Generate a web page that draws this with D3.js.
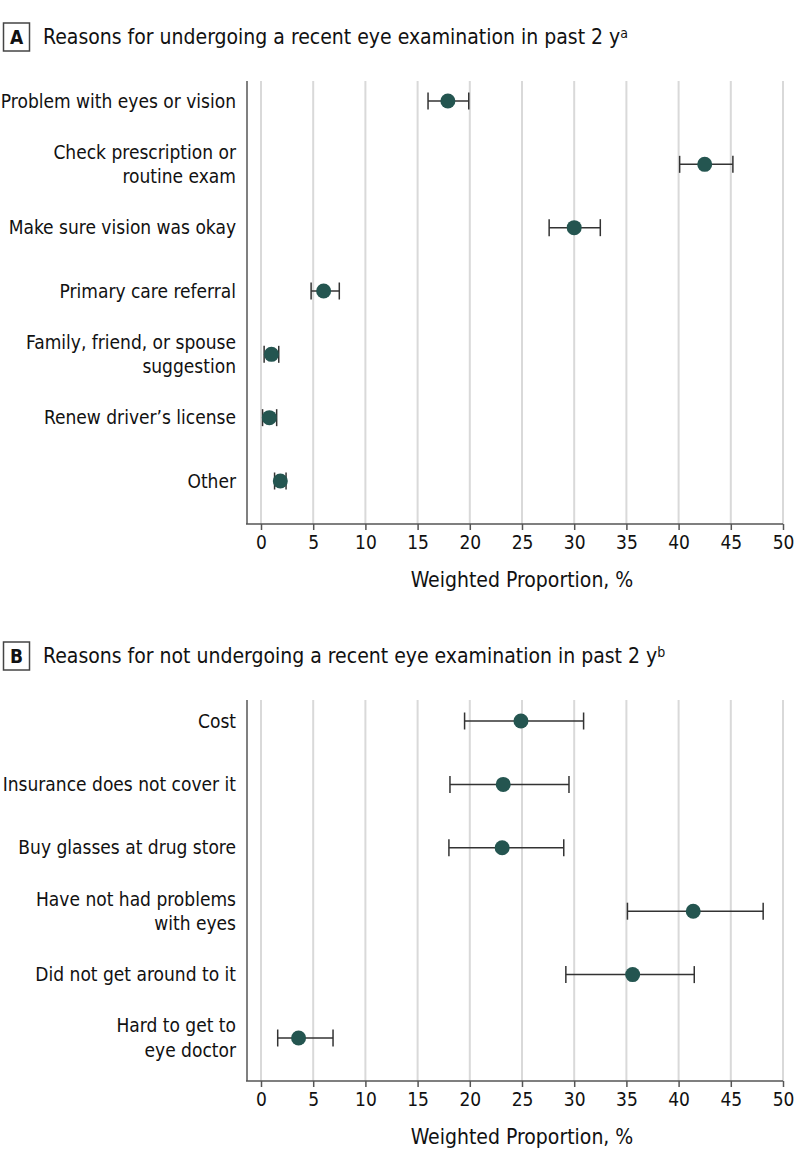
<!DOCTYPE html>
<html>
<head>
<meta charset="utf-8">
<script src="https://cdn.jsdelivr.net/npm/d3@7"></script>
<style>
  html, body { margin: 0; padding: 0; background: #fff; }
  svg { display: block; }
</style>
</head>
<body>
<svg id="chart" width="798" height="1166"></svg>
<script>
// ---------- data ----------
const reasonsA = [
  ["Problem with eyes or vision"],
  ["Check prescription or", "routine exam"],
  ["Make sure vision was okay"],
  ["Primary care referral"],
  ["Family, friend, or spouse", "suggestion"],
  ["Renew driver\u2019s license"],
  ["Other"]
];
const estA  = [17.9, 42.5, 30.0, 6.0, 1.0, 0.8, 1.85];
const lowA  = [16.0, 40.1, 27.6, 4.8, 0.3, 0.15, 1.3];
const highA = [19.9, 45.2, 32.5, 7.5, 1.7, 1.5, 2.4];

const reasonsB = [
  ["Cost"],
  ["Insurance does not cover it"],
  ["Buy glasses at drug store"],
  ["Have not had problems", "with eyes"],
  ["Did not get around to it"],
  ["Hard to get to", "eye doctor"]
];
const estB  = [24.9, 23.2, 23.1, 41.4, 35.6, 3.6];
const lowB  = [19.5, 18.1, 18.0, 35.1, 29.2, 1.6];
const highB = [30.9, 29.5, 29.0, 48.1, 41.5, 6.9];

const tickValues = [0, 5, 10, 15, 20, 25, 30, 35, 40, 45, 50];
const xTitle = "Weighted Proportion, %";
const titleA = "Reasons for undergoing a recent eye examination in past 2 y";
const supA = "a";
const titleB = "Reasons for not undergoing a recent eye examination in past 2 y";
const supB = "b";

// ---------- style ----------
const FONT = '"Liberation Sans Narrow", "DejaVu Sans Condensed", "Arial Narrow", "Liberation Sans", sans-serif';
const DOT = "#245550";
const svg = d3.select("#chart").style("font-family", FONT);

const x = d3.scaleLinear().domain([0, 50]).range([261, 783]);

function panel(opts) {
  const g = svg.append("g");
  const {letter, title, sup, labels, est, low, high, top, bottom, firstRow, lastRow, titleY} = opts;
  const y = d3.scalePoint().domain(d3.range(labels.length)).range([firstRow, lastRow]);

  // title box
  g.append("rect").attr("x", 3.5).attr("y", titleY - 14).attr("width", 26).attr("height", 28)
    .attr("fill", "#fff").attr("stroke", "#444").attr("stroke-width", 1.5);
  g.append("text").attr("x", 16.5).attr("y", titleY).attr("dy", "0.35em")
    .attr("text-anchor", "middle").attr("font-weight", "bold").attr("font-size", 19)
    .attr("fill", "#111").text(letter);
  const t = g.append("text").attr("x", 43).attr("y", titleY).attr("dy", "0.35em")
    .attr("font-size", 21).attr("fill", "#111");
  t.append("tspan").text(title);
  t.append("tspan").attr("dy", "-0.45em").attr("font-size", 14).text(sup);

  // gridlines
  g.append("g").selectAll("line").data(tickValues).join("line")
    .attr("x1", d => x(d)).attr("x2", d => x(d))
    .attr("y1", top).attr("y2", bottom)
    .attr("stroke", "#d9d9d9").attr("stroke-width", 2);

  // left axis line
  g.append("line").attr("x1", 247).attr("x2", 247).attr("y1", top).attr("y2", bottom)
    .attr("stroke", "#808080").attr("stroke-width", 2);

  // bottom axis
  const ax = g.append("g").attr("transform", `translate(0,${bottom})`)
    .call(d3.axisBottom(x).tickValues(tickValues).tickSize(6).tickPadding(6).tickSizeOuter(0));
  ax.select(".domain").attr("d", `M246,0H${x(50)}`).attr("stroke", "#555").attr("stroke-width", 1.5);
  ax.selectAll(".tick line").attr("stroke", "#555").attr("stroke-width", 1.5);
  ax.selectAll(".tick text").attr("font-size", 19).attr("fill", "#111")
    .attr("font-family", FONT);

  g.append("text").attr("x", (x(0) + x(50)) / 2).attr("y", bottom + 56).attr("dy", "0.35em")
    .attr("text-anchor", "middle").attr("font-size", 21).attr("fill", "#111").text(xTitle);

  // y labels
  g.append("g").selectAll("text").data(labels).join("text")
    .attr("x", 236).attr("y", (d, i) => y(i)).attr("text-anchor", "end")
    .attr("font-size", 19).attr("fill", "#111")
    .each(function (d) {
      const el = d3.select(this);
      const n = d.length;
      d.forEach((line, k) => {
        el.append("tspan").attr("x", 236)
          .attr("dy", k === 0 ? `${0.35 - (n - 1) * 0.65}em` : "1.3em")
          .text(line);
      });
    });

  // error bars
  const eb = g.append("g").attr("stroke", "#333").attr("stroke-width", 1.5);
  eb.selectAll("line.ci").data(est).join("line").attr("class", "ci")
    .attr("x1", (d, i) => x(low[i])).attr("x2", (d, i) => x(high[i]))
    .attr("y1", (d, i) => y(i)).attr("y2", (d, i) => y(i));
  eb.selectAll("line.lo").data(est).join("line").attr("class", "lo")
    .attr("x1", (d, i) => x(low[i])).attr("x2", (d, i) => x(low[i]))
    .attr("y1", (d, i) => y(i) - 8.5).attr("y2", (d, i) => y(i) + 8.5);
  eb.selectAll("line.hi").data(est).join("line").attr("class", "hi")
    .attr("x1", (d, i) => x(high[i])).attr("x2", (d, i) => x(high[i]))
    .attr("y1", (d, i) => y(i) - 8.5).attr("y2", (d, i) => y(i) + 8.5);

  // points
  g.append("g").selectAll("circle").data(est).join("circle")
    .attr("cx", d => x(d)).attr("cy", (d, i) => y(i)).attr("r", 7.5)
    .attr("fill", DOT);
}

panel({letter: "A", title: titleA, sup: supA, labels: reasonsA, est: estA, low: lowA, high: highA,
       top: 81, bottom: 524, firstRow: 101, lastRow: 481, titleY: 37});
panel({letter: "B", title: titleB, sup: supB, labels: reasonsB, est: estB, low: lowB, high: highB,
       top: 700, bottom: 1081, firstRow: 721, lastRow: 1038, titleY: 656});
</script>
</body>
</html>
